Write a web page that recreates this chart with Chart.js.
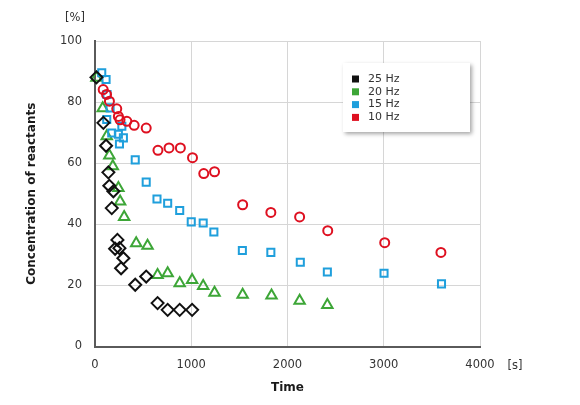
<!DOCTYPE html>
<html>
<head>
<meta charset="utf-8">
<script src="https://cdn.jsdelivr.net/npm/chart.js@4"></script>
<style>
  html, body { margin: 0; padding: 0; background: #fff; }
  #wrap { width: 580px; height: 405px; position: relative; }
</style>
</head>
<body>
<div id="wrap"><canvas id="chart"></canvas></div>
<script>
// series values (time in s, concentration in %)
const t25 = [15, 87, 115, 139, 149, 191, 174, 233, 209, 254, 295, 271, 418, 532, 650, 755, 880, 1009];
const c25 = [88.1, 73.2, 65.7, 57, 52.6, 50.8, 45.3, 34.9, 32, 32.2, 28.9, 25.6, 20.2, 22.9, 14.2, 12, 12, 12];

const t20 = [15, 80, 122, 149, 185, 243, 261, 303, 428, 546, 650, 755, 880, 1009, 1124, 1242, 1534, 1834, 2126, 2414];
const c20 = [88, 78, 68.8, 62.5, 59, 51.9, 47.5, 42.4, 33.8, 33, 23.4, 24, 20.7, 21.8, 19.8, 17.6, 16.9, 16.7, 15, 13.6];

const t15 = [70, 115, 125, 157, 122, 174, 243, 254, 279, 295, 418, 532, 644, 755, 880, 1000, 1124, 1235, 1531, 1827, 2133, 2414, 3003, 3600];
const c15 = [89.6, 87.4, 82.5, 78.1, 74.3, 69.9, 69.5, 66.3, 72.1, 68.3, 61.1, 53.8, 48.3, 46.9, 44.5, 40.8, 40.4, 37.5, 31.4, 30.8, 27.6, 24.4, 24, 20.5];

const t10 = [85, 120, 150, 226, 243, 260, 331, 407, 532, 654, 769, 887, 1013, 1130, 1242, 1534, 1827, 2126, 2418, 3010, 3594];
const c10 = [84.1, 82.5, 80.3, 77.8, 75.3, 74.2, 73.7, 72.4, 71.5, 64.2, 65, 65, 61.8, 56.6, 57.2, 46.4, 43.9, 42.4, 37.9, 34, 30.8];

const seriesLabels = ['25 Hz', '20 Hz', '15 Hz', '10 Hz'];
const xTicks = [0, 1000, 2000, 3000, 4000];
const yTicks = [0, 20, 40, 60, 80, 100];

const colors = ['#111111', '#3da637', '#1f9fdc', '#de1020'];
const shapes = ['rectRot', 'triangle', 'rect', 'circle'];
const radii = [6, 6, 5, 4.5];
const drawOrder = [-1, 2, 1, 0]; // black diamonds on top

const toPoints = (xs, ys) => xs.map((x, i) => ({ x: x, y: ys[i] }));
const seriesData = [toPoints(t25, c25), toPoints(t20, c20), toPoints(t15, c15), toPoints(t10, c10)];

const tickFont = { family: 'DejaVu Sans', size: 11.5 };
const titleFont = { family: 'DejaVu Sans', size: 12, weight: 'bold' };

// legend box inside the plot + the unit labels
const extras = {
  id: 'extras',
  afterDraw(chart) {
    const ctx = chart.ctx;
    ctx.save();
    // legend box with soft shadow
    ctx.shadowColor = 'rgba(0,0,0,0.35)';
    ctx.shadowBlur = 4;
    ctx.shadowOffsetX = 2;
    ctx.shadowOffsetY = 2;
    ctx.fillStyle = '#ffffff';
    ctx.fillRect(343, 63, 127, 69);
    ctx.shadowColor = 'transparent';
    ctx.font = '11px "DejaVu Sans"';
    ctx.textBaseline = 'middle';
    seriesLabels.forEach((lab, i) => {
      const y = 79 + i * 12.8;
      ctx.fillStyle = colors[i];
      ctx.fillRect(352, y - 3.5, 7, 7);
      ctx.fillStyle = '#333333';
      ctx.fillText(lab, 368, y);
    });
    ctx.font = '11.5px "DejaVu Sans"';
    ctx.fillStyle = '#333333';
    ctx.textAlign = 'center';
    ctx.fillText('[%]', 75, 18);
    ctx.fillText('[s]', 515, 366);
    ctx.restore();
  }
};

new Chart(document.getElementById('chart'), {
  type: 'scatter',
  data: {
    datasets: seriesLabels.map((lab, i) => ({
      label: lab,
      data: seriesData[i],
      pointStyle: shapes[i],
      pointRadius: radii[i],
      pointBorderWidth: 2,
      borderColor: colors[i],
      backgroundColor: 'rgba(0,0,0,0)',
      clip: false,
      order: drawOrder[i]
    }))
  },
  options: {
    responsive: true,
    maintainAspectRatio: false,
    animation: false,
    layout: { padding: { top: 41, right: 100, left: 0, bottom: 0 } },
    plugins: { legend: { display: false }, tooltip: { enabled: false } },
    scales: {
      x: {
        type: 'linear',
        min: 0,
        max: 4000,
        afterBuildTicks: (s) => { s.ticks = xTicks.map(v => ({ value: v })); },
        afterFit: (s) => { s.height = 58.5; },
        ticks: { font: tickFont, color: '#333333', padding: 12, maxRotation: 0, callback: (v) => String(v) },
        grid: { color: '#d6d6d6', drawTicks: false },
        border: { color: '#5a5a5a', width: 2 },
        title: { display: true, text: 'Time', font: titleFont, color: '#1a1a1a', padding: { bottom: 10 } }
      },
      y: {
        min: 0,
        max: 100,
        afterBuildTicks: (s) => { s.ticks = yTicks.map(v => ({ value: v })); },
        afterFit: (s) => { s.width = 95; },
        ticks: { font: tickFont, color: '#333333', padding: 13, callback: (v) => String(v) },
        grid: { color: '#d6d6d6', drawTicks: false },
        border: { color: '#5a5a5a', width: 2 },
        title: { display: true, text: 'Concentration of reactants', font: titleFont, color: '#1a1a1a', padding: { top: 25 } }
      }
    }
  },
  plugins: [extras]
});
</script>
</body>
</html>
